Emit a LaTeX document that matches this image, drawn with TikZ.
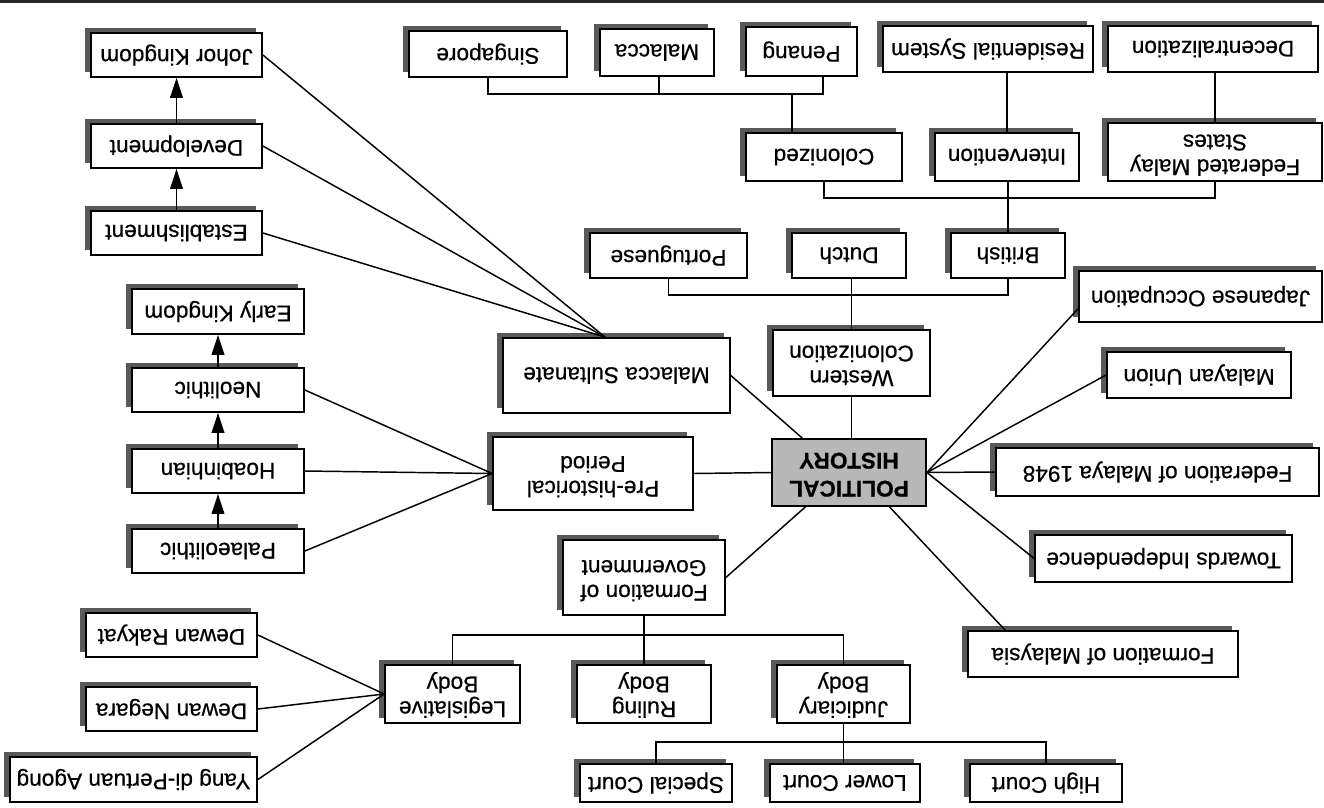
\documentclass[tikz,border=0pt]{standalone}
\usepackage{fontspec}
\setmainfont{Liberation Sans}[FakeBold=0.6]
\usetikzlibrary{arrows.meta,shadows,calc}
\newcommand\twol[2]{\begin{tabular}{@{}c@{}}#1\\#2\end{tabular}}
\newcommand\bx[7][box]{%
  \node[#1, minimum width={(#5-#3)*0.75pt}, minimum height={(#6-#4)*0.75pt}]
    (#2) at ({(#3+#5)/2},{(#4+#6)/2}) {\rotatebox{180}{#7}};}
\tikzset{
  box/.style={draw=black, line width=1.3pt, fill=white, inner sep=1pt,
    font=\fontsize{17}{18.5}\selectfont,
    drop shadow={shadow xshift=-4.5pt, shadow yshift=3.75pt, fill=black!65, opacity=1}},
  hub/.style={draw=black, line width=1.4pt, fill=black!28, inner sep=1pt,
    font=\fontsize{17}{21}\selectfont\bfseries},
  conn/.style={draw=black, line width=1.1pt},
  arr/.style={conn, -{Triangle[length=15pt,width=9.5pt]}}
}
\begin{document}
\begin{tikzpicture}[x=0.75pt, y=-0.75pt]
\useasboundingbox (0,0) rectangle (1324,807);
\fill[black!85] (0,0) rectangle (1324,3);
% left column
\bx{johor}{91}{33}{262}{77}{Johor Kingdom}
\bx{dev}{91}{124}{262}{168}{Development}
\bx{est}{91}{211}{262}{255}{Establishment}
\bx{early}{132}{289}{304}{334}{Early Kingdom}
\bx{neo}{132}{368}{304}{412}{Neolithic}
\bx{hoa}{132}{449}{304}{493}{Hoabinhian}
\bx{pal}{132}{529}{304}{573}{Palaeolithic}
\bx{dr}{86}{613}{257}{657}{Dewan Rakyat}
\bx{dn}{86}{687}{257}{731}{Dewan Negara}
\bx{yang}{10}{757}{257}{802}{Yang di-Pertuan Agong}
% top row
\bx{sing}{409}{31}{567}{77}{Singapore}
\bx{mal}{600}{29}{714}{76}{Malacca}
\bx{pen}{746}{27}{857}{76}{Penang}
\bx{res}{883}{26}{1093}{72}{Residential System}
\bx{dec}{1108}{26}{1318}{72}{Decentralization}
\bx{col}{746}{133}{902}{181}{Colonized}
\bx{intv}{935}{133}{1079}{181}{Intervention}
\bx{fms}{1108}{123}{1322}{181}{\twol{Federated Malay}{States}}
\bx{port}{590}{233}{747}{278}{Portuguese}
\bx{dutch}{792}{233}{906}{278}{Dutch}
\bx{brit}{951}{233}{1065}{278}{British}
\bx{jap}{1079}{271}{1322}{322}{Japanese Occupation}
% middle
\bx{ms}{503}{338}{730}{413}{Malacca Sultanate}
\bx{wc}{773}{330}{930}{396}{\twol{Western}{Colonization}}
\bx{mu}{1107}{352}{1291}{398}{Malayan Union}
\bx{pre}{493}{437}{693}{510}{\twol{Pre-historical}{Period}}
\bx[hub]{pol}{772}{439}{926}{506}{\twol{POLITICAL}{HISTORY}}
\bx{fed}{996}{448}{1319}{496}{Federation of Malaya 1948}
\bx{ti}{1035}{535}{1292}{582}{Towards Independence}
% bottom
\bx{fog}{563}{540}{725}{615}{\twol{Formation of}{Government}}
\bx{fom}{968}{631}{1238}{677}{Formation of Malaysia}
\bx{leg}{385}{665}{520}{723}{\twol{Legislative}{Body}}
\bx{rul}{577}{665}{711}{723}{\twol{Ruling}{Body}}
\bx{jud}{777}{665}{910}{723}{\twol{Judiciary}{Body}}
\bx{spec}{580}{764}{732}{802}{Special Court}
\bx{low}{770}{764}{920}{802}{Lower Court}
\bx{high}{970}{764}{1122}{802}{High Court}
% arrows
\draw[arr] (est.north) -- (dev.south);
\draw[arr] (dev.north) -- (johor.south);
\draw[arr] (pal.north) -- (hoa.south);
\draw[arr] (hoa.north) -- (neo.south);
\draw[arr] (neo.north) -- (early.south);
% fan to Malacca Sultanate
\coordinate (msc) at ($(ms.north west)!0.45!(ms.north east)$);
\draw[conn] (johor.east) -- (msc);
\draw[conn] (dev.east) -- (msc);
\draw[conn] (est.east) -- (msc);
% pre-historical
\draw[conn] (neo.east) -- (pre.west);
\draw[conn] (hoa.east) -- (pre.west);
\draw[conn] (pal.east) -- (pre.west);
\draw[conn] (pre.east) -- (pol.west);
\draw[conn] (ms.east) -- ($(pol.north west)!0.2!(pol.north east)$);
% political right side
\draw[conn] (pol.east) -- ($(jap.south west)!0.27!(jap.north west)$);
\draw[conn] (pol.east) -- (mu.west);
\draw[conn] (pol.east) -- (fed.west);
\draw[conn] (pol.east) -- (ti.west);
\draw[conn] ($(pol.south west)!0.76!(pol.south east)$) -- ($(fom.north west)!0.14!(fom.north east)$);
\draw[conn] ($(pol.south west)!0.22!(pol.south east)$) -- (fog.east);
% western colonization tree
\coordinate (jW) at (851,295);
\draw[conn] (port.south) -- (port.south |- jW) -- (brit.south |- jW) -- (brit.south);
\draw[conn] (wc.north) -- (wc.north |- dutch.south);
\draw[conn] (wc.south) -- (wc.south |- pol.north);
\draw[conn] (brit.north) -- (brit.north |- intv.south);
\coordinate (jB) at (1007,198);
\draw[conn] (col.south) -- (col.south |- jB) -- (fms.south |- jB) -- (fms.south);
\draw[conn] (intv.north) -- (intv.north |- res.south);
\draw[conn] (fms.north) -- (fms.north |- dec.south);
\coordinate (jS) at (488,94);
\coordinate (jM) at (659,94);
\coordinate (jP) at (823,94);
\coordinate (jA) at (792,94);
\draw[conn] (jS |- sing.south) -- (jS) -- (jP) -- (jP |- pen.south);
\draw[conn] (jM |- mal.south) -- (jM);
\draw[conn] (jA |- col.north) -- (jA);
% government tree
\coordinate (jG) at (644,635);
\draw[conn] (leg.north) -- (leg.north |- jG) -- (jud.north |- jG) -- (jud.north);
\draw[conn] (fog.south) -- (fog.south |- rul.north);
\coordinate (jJ) at (844,742);
\draw[conn] (jud.south) -- (jud.south |- low.north);
\draw[conn] (spec.north) -- (spec.north |- jJ) -- (high.north |- jJ) -- (high.north);
% legislative
\draw[conn] (leg.west) -- (dr.east);
\draw[conn] (leg.west) -- (dn.east);
\draw[conn] (leg.west) -- (yang.east);
\end{tikzpicture}
\end{document}
